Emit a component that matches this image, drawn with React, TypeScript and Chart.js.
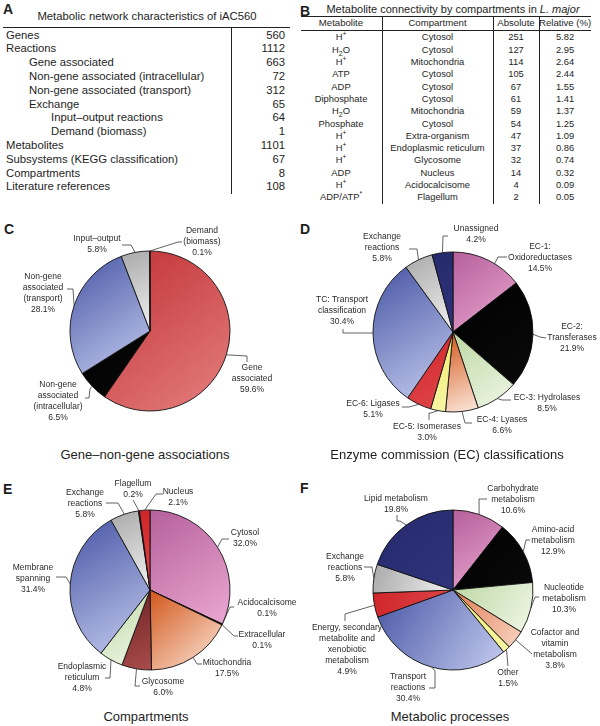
import React, { useEffect, useRef } from "react";
import { Chart, registerables } from "chart.js";

Chart.register(...registerables);

// ---------------- Table A data ----------------
const tableATitle = "Metabolic network characteristics of iAC560";
const tableALabels = [
  "Genes",
  "Reactions",
  "Gene associated",
  "Non-gene associated (intracellular)",
  "Non-gene associated (transport)",
  "Exchange",
  "Input–output reactions",
  "Demand (biomass)",
  "Metabolites",
  "Subsystems (KEGG classification)",
  "Compartments",
  "Literature references",
];
const tableALevels = [0, 0, 1, 1, 1, 1, 2, 2, 0, 0, 0, 0];
const tableAValues = [560, 1112, 663, 72, 312, 65, 64, 1, 1101, 67, 8, 108];

// ---------------- Table B data ----------------
const tableBHeaders = ["Metabolite", "Compartment", "Absolute", "Relative (%)"];
const tableBMetabolites = [
  "H^+", "H_2O", "H^+", "ATP", "ADP", "Diphosphate", "H_2O",
  "Phosphate", "H^+", "H^+", "H^+", "ADP", "H^+", "ADP/ATP^*",
];
const tableBCompartments = [
  "Cytosol", "Cytosol", "Mitochondria", "Cytosol", "Cytosol", "Cytosol", "Mitochondria",
  "Cytosol", "Extra-organism", "Endoplasmic reticulum", "Glycosome", "Nucleus", "Acidocalcisome", "Flagellum",
];
const tableBAbsolute = [251, 127, 114, 105, 67, 61, 59, 54, 47, 37, 32, 14, 4, 2];
const tableBRelative = ["5.82", "2.95", "2.64", "2.44", "1.55", "1.41", "1.37", "1.25", "1.09", "0.86", "0.74", "0.32", "0.09", "0.05"];

// ---------------- Pie data ----------------
const geneNames = ["Gene\nassociated", "Non-gene\nassociated\n(intracellular)", "Non-gene\nassociated\n(transport)", "Input–output", "Demand\n(biomass)"];
const geneValues = [663, 72, 312, 64, 1];
const geneColors = ["red", "black", "blue", "grey", "grey"];

const ecNames = ["EC-1:\nOxidoreductases", "EC-2:\nTransferases", "EC-3: Hydrolases", "EC-4: Lyases", "EC-5: Isomerases", "EC-6: Ligases", "TC: Transport\nclassification", "Exchange\nreactions", "Unassigned"];
const ecValues = [14.5, 21.9, 8.5, 6.6, 3.0, 5.1, 30.4, 5.8, 4.2];
const ecColors = ["pink", "black", "green", "orange", "yellow", "redSolid", "blue", "grey", "navy"];

const compNames = ["Cytosol", "Acidocalcisome", "Extracellular", "Mitochondria", "Glycosome", "Endoplasmic\nreticulum", "Membrane\nspanning", "Exchange\nreactions", "Flagellum", "Nucleus"];
const compValues = [32.0, 0.1, 0.1, 17.5, 6.0, 4.8, 31.4, 5.8, 0.2, 2.1];
const compColors = ["pink", "black", "black", "orange", "brown", "green", "blue", "grey", "navy", "redSolid"];

const procNames = ["Carbohydrate\nmetabolism", "Amino-acid\nmetabolism", "Nucleotide\nmetabolism", "Cofactor and\nvitamin\nmetabolism", "Other", "Transport\nreactions", "Energy, secondary\nmetabolite and\nxenobiotic\nmetabolism", "Exchange\nreactions", "Lipid metabolism"];
const procValues = [10.6, 12.9, 10.3, 3.8, 1.5, 30.4, 4.9, 5.8, 19.8];
const procColors = ["pink", "black", "green", "peach", "yellow", "blue", "redSolid", "grey", "navy"];

// ---------------- Styles ----------------
const PALETTE: Record<string, [string, string]> = {
  red: ["#c13034", "#e5807f"],
  redSolid: ["#cf2529", "#e0474a"],
  black: ["#000000", "#0a0a0a"],
  blue: ["#4856a5", "#c4ccef"],
  grey: ["#a9a9a9", "#f2f2f2"],
  pink: ["#b5609a", "#eba8d3"],
  green: ["#bcd7a3", "#f0f7e7"],
  orange: ["#d2561a", "#fde9dd"],
  peach: ["#e07a52", "#f9d6c2"],
  yellow: ["#efeb6c", "#f8f6a6"],
  navy: ["#25296c", "#2f347b"],
  brown: ["#6c2222", "#a94c4c"],
};

const FONT = "'Liberation Sans', Arial, Helvetica, sans-serif";
const TEXT = "#1e1e1e";

type LabelCfg = { tx: number; ty: number; pts: [number, number][]; frac?: number };
type PieSpec = {
  names: string[];
  values: number[];
  colors: string[];
  pct: (i: number) => string;
  box: { x: number; y: number; w: number; h: number };
  center: { x: number; y: number };
  R: number;
  lh: number;
  labels: LabelCfg[];
};

const pctOfTotal = (vals: number[]) => (i: number) => {
  const t = vals.reduce((a, b) => a + b, 0);
  return ((vals[i] / t) * 100).toFixed(1) + "%";
};

const pieC: PieSpec = {
  names: geneNames, values: geneValues, colors: geneColors, pct: pctOfTotal(geneValues),
  box: { x: 0, y: 215, w: 300, h: 220 }, center: { x: 150, y: 331 }, R: 80, lh: 10.8,
  labels: [
    { tx: 102, ty: 37, pts: [[97, 25], [97, 31]] },
    { tx: -92, ty: 54, pts: [[-60, 58], [-61, 67], [-65, 67]] },
    { tx: -107, ty: -54, pts: [[-77, -42], [-83, -42]] },
    { tx: -53, ty: -92, pts: [[-19, -86], [-28, -86]] },
    { tx: 52, ty: -100, pts: [[28, -89], [32, -89]] },
  ],
};

const pieD: PieSpec = {
  names: ecNames, values: ecValues, colors: ecColors, pct: pctOfTotal(ecValues),
  box: { x: 300, y: 215, w: 300, h: 235 }, center: { x: 453, y: 332 }, R: 80, lh: 10.6,
  labels: [
    { tx: 87, ty: -85, frac: 0.6, pts: [[45, -75], [54, -75]] },
    { tx: 119, ty: -5, pts: [[87, 5], [93, 6]] },
    { tx: 94, ty: 66, pts: [[49, 68], [58, 68]] },
    { tx: 49, ty: 88, pts: [[12, 91], [19, 91]] },
    { tx: -26, ty: 95, pts: [[-22, 81], [-24, 81], [-24, 88]] },
    { tx: -80, ty: 72, pts: [[-44, 75], [-51, 75]] },
    { tx: -111, ty: -32, pts: [[-110, 1], [-110, -3]] },
    { tx: -71, ty: -95, pts: [[-36, -83], [-44, -83]] },
    { tx: 23, ty: -103, pts: [[-10, -96], [-5, -96]] },
  ],
};

const pieE: PieSpec = {
  names: compNames, values: compValues, colors: compColors, pct: pctOfTotal(compValues),
  box: { x: 0, y: 470, w: 300, h: 235 }, center: { x: 150, y: 590 }, R: 80, lh: 10.6,
  labels: [
    { tx: 95, ty: -57, pts: [[72, -51], [79, -51]] },
    { tx: 117, ty: 13, pts: [[80, 17], [84, 17]] },
    { tx: 112, ty: 45, pts: [[84, 46], [88, 46]] },
    { tx: 77, ty: 73, pts: [[47, 74], [52, 74]] },
    { tx: 13, ty: 92, pts: [[-15, 96], [-10, 96]] },
    { tx: -68, ty: 77, pts: [[-40, 88], [-45, 88]] },
    { tx: -117, ty: -22, pts: [[-84, -13], [-94, -13]] },
    { tx: -65, ty: -97, pts: [[-32, -87], [-44, -87]] },
    { tx: -17, ty: -106, pts: [[-17, -90]] },
    { tx: 28, ty: -98, pts: [[6, -96], [13, -96]] },
  ],
};

const pieF: PieSpec = {
  names: procNames, values: procValues, colors: procColors, pct: pctOfTotal(procValues),
  box: { x: 300, y: 470, w: 300, h: 235 }, center: { x: 453, y: 590 }, R: 80, lh: 10.8,
  labels: [
    { tx: 60, ty: -101, pts: [[26, -91], [34, -91]] },
    { tx: 100, ty: -60, pts: [[73, -50], [77, -50]] },
    { tx: 111, ty: -2, pts: [[82, 7], [86, 7]] },
    { tx: 102, ty: 43, pts: [[79, 64]] },
    { tx: 55, ty: 83, pts: [[55, 76]] },
    { tx: -45, ty: 87, pts: [[-18, 81], [-18, 98], [-24, 98]] },
    { tx: -106, ty: 38, pts: [[-108, 24], [-108, 31]] },
    { tx: -108, ty: -33, pts: [[-81, -23], [-89, -23]] },
    { tx: -57, ty: -91, pts: [[-53, -69], [-56, -69], [-56, -75]] },
  ],
};

function sliceFill(ctx: any, spec: PieSpec) {
  const i = ctx.dataIndex ?? 0;
  const [c0, c1] = PALETTE[spec.colors[i]] || ["#999", "#ccc"];
  const area = ctx.chart.chartArea;
  if (!area || ctx.type !== "data") return c0;
  const cx = (area.left + area.right) / 2;
  const cy = (area.top + area.bottom) / 2;
  const vals = spec.values;
  const total = vals.reduce((a, b) => a + b, 0);
  let cum = 0;
  for (let k = 0; k < i; k++) cum += vals[k];
  const a0 = -Math.PI / 2 + (2 * Math.PI * cum) / total;
  const a1 = a0 + (2 * Math.PI * vals[i]) / total;
  let minX = cx, maxX = cx, minY = cy, maxY = cy;
  const n = 32;
  for (let s = 0; s <= n; s++) {
    const a = a0 + ((a1 - a0) * s) / n;
    const px = cx + spec.R * Math.cos(a);
    const py = cy + spec.R * Math.sin(a);
    minX = Math.min(minX, px); maxX = Math.max(maxX, px);
    minY = Math.min(minY, py); maxY = Math.max(maxY, py);
  }
  const g = ctx.chart.ctx.createLinearGradient(minX, minY, maxX + 0.01, maxY + 0.01);
  g.addColorStop(0, c0);
  g.addColorStop(1, c1);
  return g;
}

function labelPlugin(spec: PieSpec) {
  return {
    id: "sliceLabels",
    afterDatasetsDraw(chart: any) {
      const meta = chart.getDatasetMeta(0);
      const c: CanvasRenderingContext2D = chart.ctx;
      c.save();
      c.font = `8.5px ${FONT}`;
      c.fillStyle = "#2a2a2a";
      c.strokeStyle = "#3a3a3a";
      c.lineWidth = 0.8;
      c.textAlign = "center";
      c.textBaseline = "middle";
      meta.data.forEach((el: any, i: number) => {
        const p = el.getProps(["x", "y", "startAngle", "endAngle", "outerRadius"], true);
        const L = spec.labels[i];
        if (!L) return;
        const a = p.startAngle + (p.endAngle - p.startAngle) * (L.frac ?? 0.5);
        const ax = p.x + p.outerRadius * Math.cos(a);
        const ay = p.y + p.outerRadius * Math.sin(a);
        c.beginPath();
        c.moveTo(ax, ay);
        L.pts.forEach(([dx, dy]) => c.lineTo(p.x + dx, p.y + dy));
        c.stroke();
        const lines = [...spec.names[i].split("\n"), spec.pct(i)];
        lines.forEach((t, k) => c.fillText(t, p.x + L.tx, p.y + L.ty + k * spec.lh));
      });
      c.restore();
    },
  };
}

function PieChart({ spec }: { spec: PieSpec }) {
  const ref = useRef<HTMLCanvasElement>(null);
  useEffect(() => {
    const { box, center, R } = spec;
    const padding = {
      left: center.x - box.x - R,
      right: box.x + box.w - center.x - R,
      top: center.y - box.y - R,
      bottom: box.y + box.h - center.y - R,
    };
    const chart = new Chart(ref.current as HTMLCanvasElement, {
      type: "pie",
      data: {
        labels: spec.names.map((n) => n.replace(/\n/g, " ")),
        datasets: [
          {
            data: spec.values,
            radius: R,
            backgroundColor: (ctx: any) => sliceFill(ctx, spec),
            borderColor: "#111",
            borderWidth: 0.9,
          } as any,
        ],
      },
      options: {
        responsive: false,
        animation: false,
        devicePixelRatio: 1,
        layout: { padding },
        plugins: { legend: { display: false }, tooltip: { enabled: false } },
      },
      plugins: [labelPlugin(spec)],
    });
    return () => chart.destroy();
  }, [spec]);
  return (
    <canvas
      ref={ref}
      width={spec.box.w}
      height={spec.box.h}
      style={{ position: "absolute", left: spec.box.x, top: spec.box.y, width: spec.box.w, height: spec.box.h }}
    />
  );
}

function Chem({ s }: { s: string }) {
  const parts: React.ReactNode[] = [];
  let k = 0;
  for (let i = 0; i < s.length; i++) {
    const ch = s[i];
    if (ch === "^" && i + 1 < s.length) {
      parts.push(<sup key={k++} style={{ fontSize: "0.7em", lineHeight: 0 }}>{s[i + 1]}</sup>);
      i++;
    } else if (ch === "_" && i + 1 < s.length) {
      parts.push(<sub key={k++} style={{ fontSize: "0.75em", lineHeight: 0 }}>{s[i + 1]}</sub>);
      i++;
    } else {
      parts.push(<span key={k++}>{ch}</span>);
    }
  }
  return <>{parts}</>;
}

function Txt(props: { x: number; y: number; w?: number; align?: "left" | "center" | "right"; size: number; bold?: boolean; children: React.ReactNode; color?: string }) {
  const { x, y, w = 0, align = "left", size, bold, children, color } = props;
  const h = size * 1.4;
  let left = x;
  let width: number | undefined = undefined;
  if (align === "center") { left = x - w / 2; width = w; }
  if (align === "right") { left = x - w; width = w; }
  return (
    <div
      style={{
        position: "absolute", left, top: y - h / 2, height: h, lineHeight: `${h}px`,
        width, textAlign: align, whiteSpace: "nowrap", fontSize: size,
        fontWeight: bold ? "bold" : "normal", color: color || TEXT, fontFamily: FONT,
      }}
    >
      {children}
    </div>
  );
}

function Rule({ x, y, w, h }: { x: number; y: number; w: number; h: number }) {
  return <div style={{ position: "absolute", left: x, top: y, width: w, height: h, background: "#222" }} />;
}

function TableA() {
  const indent = [6, 29, 51];
  return (
    <>
      <Txt x={3} y={10} size={14} bold>A</Txt>
      <Txt x={147} y={17} w={290} align="center" size={11.3}>{tableATitle}</Txt>
      <Rule x={3} y={26.5} w={287} h={1.4} />
      <Rule x={230.5} y={28} w={1.3} h={166} />
      {tableALabels.map((l, i) => (
        <React.Fragment key={i}>
          <Txt x={indent[tableALevels[i]]} y={35.5 + i * 13.8} size={11.3}>{l}</Txt>
          <Txt x={285} y={35.5 + i * 13.8} w={50} align="right" size={11.3}>{tableAValues[i]}</Txt>
        </React.Fragment>
      ))}
    </>
  );
}

function TableB() {
  const colCenters = [341, 437.5, 516, 565];
  const colWidths = [80, 110, 46, 52];
  const rowY = (i: number) => 37 + i * 12.3;
  return (
    <>
      <Txt x={300} y={12} size={14} bold>B</Txt>
      <Txt x={453} y={10} w={300} align="center" size={11}>
        Metabolite connectivity by compartments in <i>L. major</i>
      </Txt>
      <Rule x={301} y={16} w={290} h={1.2} />
      <Rule x={301} y={29.5} w={290} h={1} />
      <Rule x={381.5} y={16} w={1.2} h={188} />
      <Rule x={492.5} y={16} w={1.2} h={188} />
      <Rule x={538.5} y={16} w={1.2} h={188} />
      {tableBHeaders.map((hd, j) => (
        <Txt key={j} x={colCenters[j]} y={23.2} w={colWidths[j]} align="center" size={9.6}>{hd}</Txt>
      ))}
      {tableBMetabolites.map((m, i) => (
        <React.Fragment key={i}>
          <Txt x={colCenters[0]} y={rowY(i)} w={colWidths[0]} align="center" size={9.4}><Chem s={m} /></Txt>
          <Txt x={colCenters[1]} y={rowY(i)} w={colWidths[1]} align="center" size={9.4}>{tableBCompartments[i]}</Txt>
          <Txt x={colCenters[2]} y={rowY(i)} w={colWidths[2]} align="center" size={9.4}>{tableBAbsolute[i]}</Txt>
          <Txt x={colCenters[3]} y={rowY(i)} w={colWidths[3]} align="center" size={9.4}>{tableBRelative[i]}</Txt>
        </React.Fragment>
      ))}
    </>
  );
}

export default function App() {
  return (
    <div
      style={{
        position: "absolute", left: 0, top: 0, width: 600, height: 726,
        overflow: "hidden", background: "#fff", fontFamily: FONT,
      }}
    >
      <TableA />
      <TableB />
      <Txt x={4} y={230} size={14} bold>C</Txt>
      <Txt x={300} y={230} size={14} bold>D</Txt>
      <Txt x={3} y={490} size={14} bold>E</Txt>
      <Txt x={300} y={489} size={14} bold>F</Txt>
      <PieChart spec={pieC} />
      <PieChart spec={pieD} />
      <PieChart spec={pieE} />
      <PieChart spec={pieF} />
      <Txt x={145} y={455} w={290} align="center" size={13}>Gene–non-gene associations</Txt>
      <Txt x={447} y={455} w={300} align="center" size={13}>Enzyme commission (EC) classifications</Txt>
      <Txt x={146} y={717} w={290} align="center" size={13}>Compartments</Txt>
      <Txt x={450} y={717} w={300} align="center" size={13}>Metabolic processes</Txt>
    </div>
  );
}
